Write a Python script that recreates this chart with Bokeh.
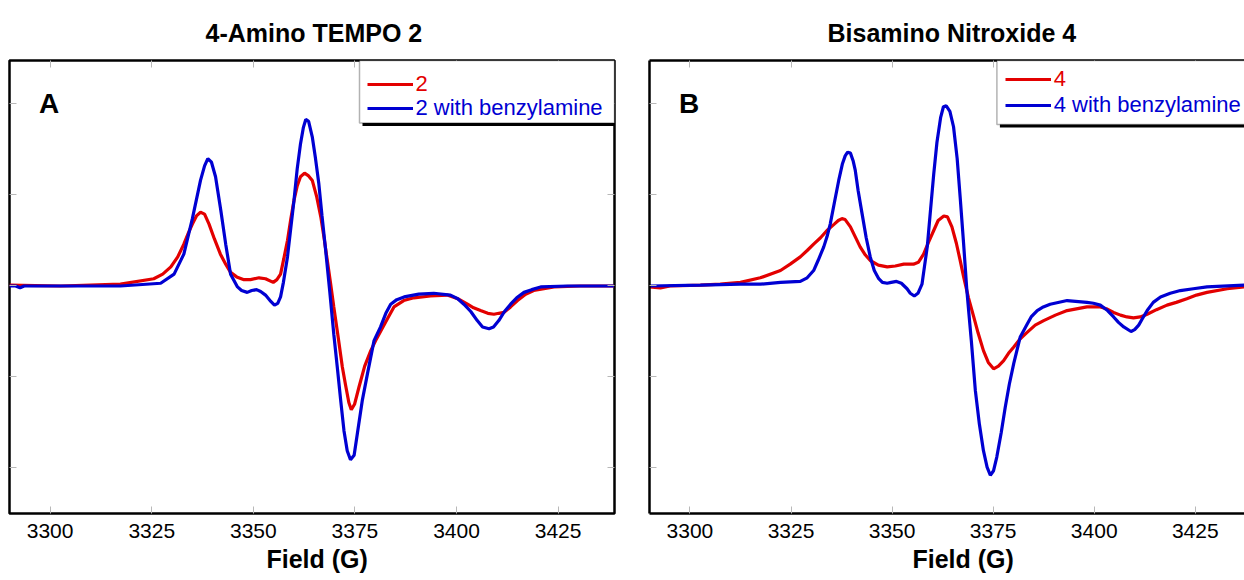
from bokeh.plotting import figure
from bokeh.layouts import row
from bokeh.models import Range1d, FixedTicker, LinearAxis, Legend, LegendItem, BoxAnnotation, Label, Title
from bokeh.embed import file_html
from bokeh.resources import INLINE

# ---------------- data (Field in G, derivative intensity in arbitrary units) ----------------
X_TICKS = [3300, 3325, 3350, 3375, 3400, 3425]
Y_TICKS = [-2, -1, 0, 1, 2]

TITLE_A = "4-Amino TEMPO 2"
TITLE_B = "Bisamino Nitroxide 4"
LABEL_A_RED = "2"
LABEL_A_BLUE = "2 with benzylamine"
LABEL_B_RED = "4"
LABEL_B_BLUE = "4 with benzylamine"
X_LABEL = "Field (G)"

a_red_field = [3290.0, 3302.6, 3317.3, 3325.5, 3327.7, 3329.7, 3331.4, 3332.9, 3334.0, 3335.0,
               3336.0, 3337.0, 3338.0, 3339.1, 3340.4, 3341.9, 3343.2, 3344.4, 3345.9, 3347.7,
               3349.3, 3351.4, 3353.0, 3354.9, 3355.8, 3356.7, 3357.5, 3358.4, 3359.2, 3360.0,
               3360.8, 3361.6, 3362.6, 3363.6, 3364.5, 3365.6, 3366.6, 3367.4, 3368.2, 3369.0,
               3369.8, 3370.9, 3371.9, 3372.7, 3373.5, 3374.1, 3374.9, 3376.0, 3377.4, 3378.9,
               3380.1, 3381.3, 3383.0, 3384.6, 3387.0, 3389.5, 3393.6, 3397.7, 3400.3, 3402.7,
               3404.2, 3405.9, 3407.7, 3409.2, 3410.4, 3411.7, 3413.3, 3415.0, 3417.0, 3419.0,
               3424.0, 3430.5, 3438.7]
a_red_int = [0.01, 0.00, 0.02, 0.08, 0.13, 0.21, 0.32, 0.46, 0.58, 0.68,
             0.77, 0.81, 0.79, 0.68, 0.52, 0.35, 0.24, 0.15, 0.10, 0.07,
             0.07, 0.09, 0.08, 0.04, 0.07, 0.13, 0.30, 0.50, 0.73, 0.94,
             1.10, 1.20, 1.24, 1.21, 1.16, 0.98, 0.76, 0.53, 0.28, 0.03,
             -0.23, -0.57, -0.89, -1.09, -1.28, -1.36, -1.30, -1.11, -0.88, -0.71,
             -0.60, -0.50, -0.36, -0.23, -0.16, -0.13, -0.11, -0.10, -0.14, -0.20,
             -0.24, -0.27, -0.30, -0.31, -0.30, -0.29, -0.23, -0.16, -0.09, -0.05,
             -0.01, 0.00, 0.00]

a_blue_field = [3290.0, 3291.5, 3292.6, 3293.6, 3302.6, 3317.3, 3327.2, 3330.5, 3332.9, 3335.0,
                3337.0, 3338.0, 3338.8, 3339.7, 3340.7, 3342.0, 3343.2, 3344.4, 3346.1, 3347.1,
                3348.5, 3349.6, 3350.8, 3351.8, 3353.0, 3354.3, 3355.2, 3356.0, 3356.7, 3357.4,
                3358.4, 3359.2, 3360.0, 3360.8, 3361.6, 3362.3, 3362.9, 3363.6, 3364.5, 3365.3,
                3366.1, 3366.9, 3367.8, 3368.8, 3369.8, 3370.7, 3371.5, 3372.3, 3373.1, 3373.9,
                3374.8, 3375.6, 3376.8, 3378.1, 3379.7, 3381.3, 3382.6, 3383.8, 3385.3, 3387.1,
                3390.7, 3394.4, 3398.5, 3400.3, 3401.8, 3403.5, 3405.1, 3406.4, 3408.0, 3409.1,
                3410.4, 3411.8, 3413.3, 3414.8, 3416.6, 3418.5, 3420.7, 3427.3, 3438.7]
a_blue_int = [0.00, 0.00, -0.02, 0.00, 0.00, 0.00, 0.03, 0.13, 0.35, 0.74,
              1.16, 1.32, 1.40, 1.36, 1.20, 0.83, 0.46, 0.13, -0.01, -0.05,
              -0.07, -0.05, -0.04, -0.06, -0.10, -0.17, -0.21, -0.19, -0.12, 0.04,
              0.32, 0.63, 0.94, 1.29, 1.56, 1.74, 1.83, 1.81, 1.64, 1.40,
              1.13, 0.77, 0.39, -0.06, -0.53, -0.91, -1.26, -1.59, -1.81, -1.91,
              -1.86, -1.62, -1.26, -0.96, -0.60, -0.45, -0.30, -0.20, -0.15, -0.12,
              -0.09, -0.08, -0.10, -0.14, -0.20, -0.28, -0.38, -0.45, -0.47, -0.45,
              -0.38, -0.28, -0.20, -0.13, -0.07, -0.04, -0.01, 0.00, 0.00]

b_red_field = [3290.0, 3292.7, 3295.1, 3302.6, 3307.5, 3312.5, 3317.4, 3322.4, 3324.8, 3327.3,
               3329.0, 3330.6, 3332.3, 3333.9, 3335.7, 3336.7, 3337.6, 3338.4, 3339.7, 3340.9,
               3342.1, 3343.4, 3344.6, 3346.6, 3348.8, 3350.8, 3352.9, 3355.3, 3356.5, 3357.8,
               3359.0, 3360.3, 3361.4, 3362.8, 3363.7, 3364.8, 3365.9, 3366.8, 3367.7, 3368.9,
               3370.2, 3371.3, 3372.6, 3373.8, 3375.1, 3376.3, 3377.6, 3378.8, 3380.1, 3381.7,
               3383.4, 3385.4, 3387.5, 3390.4, 3393.3, 3398.2, 3401.5, 3403.0, 3404.8, 3406.5,
               3408.1, 3409.7, 3411.4, 3413.1, 3415.4, 3418.0, 3420.3, 3422.9, 3425.3, 3427.9,
               3432.9, 3437.1]
b_red_int = [-0.01, -0.02, 0.00, 0.01, 0.02, 0.04, 0.09, 0.17, 0.24, 0.32,
             0.39, 0.46, 0.53, 0.61, 0.68, 0.72, 0.74, 0.73, 0.65, 0.54,
             0.43, 0.34, 0.28, 0.23, 0.21, 0.22, 0.24, 0.24, 0.26, 0.35,
             0.48, 0.61, 0.72, 0.77, 0.76, 0.65, 0.47, 0.29, 0.10, -0.13,
             -0.34, -0.52, -0.71, -0.84, -0.91, -0.88, -0.82, -0.74, -0.67, -0.58,
             -0.51, -0.43, -0.38, -0.32, -0.27, -0.23, -0.23, -0.25, -0.29, -0.32,
             -0.34, -0.35, -0.34, -0.31, -0.26, -0.21, -0.18, -0.14, -0.10, -0.07,
             -0.03, -0.01]

b_blue_field = [3290.0, 3302.6, 3312.5, 3317.4, 3322.4, 3327.3, 3329.0, 3330.6, 3331.7, 3333.1,
                3333.9, 3334.7, 3335.7, 3336.8, 3337.7, 3338.4, 3339.0, 3339.7, 3340.4, 3340.9,
                3341.6, 3342.6, 3343.6, 3344.6, 3345.6, 3346.7, 3347.6, 3348.8, 3349.8, 3351.1,
                3352.3, 3353.7, 3354.5, 3355.5, 3356.4, 3357.4, 3358.0, 3358.7, 3359.5, 3360.3,
                3361.1, 3362.0, 3362.7, 3363.4, 3364.3, 3365.2, 3366.1, 3366.9, 3367.7, 3368.5,
                3369.6, 3370.6, 3371.6, 3372.6, 3373.5, 3374.3, 3375.1, 3375.9, 3377.0, 3378.0,
                3379.0, 3380.1, 3381.7, 3383.4, 3384.4, 3385.9, 3387.4, 3389.1, 3393.3, 3398.2,
                3399.8, 3401.5, 3403.3, 3404.8, 3406.0, 3407.3, 3409.1, 3410.0, 3411.0, 3411.9,
                3413.1, 3414.6, 3416.4, 3418.8, 3421.3, 3424.5, 3427.9, 3437.1]
b_blue_int = [0.00, 0.01, 0.02, 0.02, 0.04, 0.05, 0.09, 0.17, 0.28, 0.43,
              0.54, 0.68, 0.91, 1.16, 1.34, 1.43, 1.47, 1.46, 1.37, 1.27,
              1.05, 0.79, 0.53, 0.32, 0.17, 0.08, 0.04, 0.03, 0.04, 0.05,
              0.03, -0.03, -0.08, -0.11, -0.08, 0.02, 0.21, 0.43, 0.83, 1.23,
              1.58, 1.85, 1.97, 1.98, 1.92, 1.75, 1.40, 0.94, 0.46, -0.05,
              -0.60, -1.15, -1.52, -1.81, -1.99, -2.08, -2.03, -1.88, -1.61, -1.33,
              -1.08, -0.85, -0.56, -0.42, -0.34, -0.27, -0.23, -0.20, -0.16, -0.18,
              -0.19, -0.21, -0.27, -0.34, -0.40, -0.45, -0.50, -0.48, -0.43, -0.36,
              -0.27, -0.18, -0.12, -0.08, -0.05, -0.03, -0.01, 0.01]

# ---------------- styling ----------------
FONT = "Liberation Sans"
RED = "#e30000"
BLUE = "#0000d2"
TICK_GRAY = "#b8b8b8"


def add_axis(p, side, ticks, show_labels, draw_line):
    ax = LinearAxis(ticker=FixedTicker(ticks=ticks), major_tick_in=7, major_tick_out=0,
                    minor_tick_line_color=None, major_tick_line_color=TICK_GRAY,
                    major_tick_line_width=1)
    if draw_line:
        ax.axis_line_color = "black"
        ax.axis_line_width = 2.5
    else:
        ax.axis_line_color = None
    if show_labels:
        ax.major_label_text_font = FONT
        ax.major_label_text_font_size = "21px"
        ax.major_label_text_color = "black"
        ax.major_label_standoff = 10
    else:
        ax.major_label_text_font_size = "1px"
        ax.major_label_text_color = None
        ax.major_label_standoff = 0
    p.add_layout(ax, side)


def add_legend_item(p, renderer, text, color, loc):
    leg = Legend(items=[LegendItem(label=text, renderers=[renderer])], location=loc,
                 orientation="vertical", padding=0, margin=0, spacing=0,
                 glyph_width=46, glyph_height=28, label_height=28, label_width=10,
                 label_standoff=3, border_line_color=None, background_fill_alpha=0,
                 label_text_font=FONT, label_text_font_size="22px", label_text_color=color)
    p.add_layout(leg, "center")


def add_box(p, left, right, top, bottom, fill, line):
    p.add_layout(BoxAnnotation(left=left, right=right, top=top, bottom=bottom,
                               left_units="screen", right_units="screen", top_units="screen",
                               bottom_units="screen", fill_color=fill, fill_alpha=1,
                               line_color=line, line_width=1.5))


def make_panel(width, x_end, min_left, min_right, is_b, title_text, title_off, xlabel_off):
    p = figure(width=width, height=580, min_border_left=min_left, min_border_right=min_right,
               min_border_top=60, min_border_bottom=67,
               x_range=Range1d(3290, x_end), y_range=Range1d(-2.5, 2.478),
               x_axis_location=None, y_axis_location=None, title=None,
               toolbar_location=None, output_backend="svg",
               background_fill_color="white", border_fill_color="white")
    p.grid.visible = False
    if is_b:
        p.outline_line_color = None
        add_axis(p, "below", X_TICKS, True, True)
        add_axis(p, "above", X_TICKS, False, True)
        add_axis(p, "left", Y_TICKS, False, True)
    else:
        p.outline_line_color = "black"
        p.outline_line_width = 2.5
        add_axis(p, "below", X_TICKS, True, False)
        add_axis(p, "above", X_TICKS, False, False)
        add_axis(p, "left", Y_TICKS, False, False)
        add_axis(p, "right", Y_TICKS, False, False)
    p.add_layout(Title(text=title_text, align="left", offset=title_off, standoff=27,
                       text_font=FONT, text_font_size="25px", text_font_style="bold",
                       text_color="black"), "above")
    p.add_layout(Title(text=X_LABEL, align="left", offset=xlabel_off, standoff=4,
                       text_font=FONT, text_font_size="25px", text_font_style="bold",
                       text_color="black"), "below")
    return p


def add_letter(p, text):
    p.add_layout(Label(x=29.5, y=409.7, x_units="screen", y_units="screen", text=text,
                       text_font=FONT, text_font_size="28px", text_font_style="bold",
                       text_color="black", text_align="left", text_baseline="alphabetic"))


# ---------------- panel A ----------------
pA = make_panel(632, 3438.87, 9, 18, False, TITLE_A, 196, 257)
rA = pA.line(a_red_field, a_red_int, line_color=RED, line_width=3.2)
bA = pA.line(a_blue_field, a_blue_int, line_color=BLUE, line_width=3.2)
add_box(pA, 353, 608, 450, 387.5, "black", None)
add_box(pA, 350, 605, 453, 390.5, "white", "black")
add_legend_item(pA, rA, LABEL_A_RED, RED, (357.5, 415))
add_legend_item(pA, bA, LABEL_A_BLUE, BLUE, (357.5, 391))
add_letter(pA, "A")

# ---------------- panel B ----------------
pB = make_panel(612, 3437.17, 17, 0, True, TITLE_B, 178, 263)
rB = pB.line(b_red_field, b_red_int, line_color=RED, line_width=3.2)
bB = pB.line(b_blue_field, b_blue_int, line_color=BLUE, line_width=3.2)
add_box(pB, 350.4, 640, 450, 386, "black", None)
add_box(pB, 347.4, 640, 453, 389, "white", "black")
add_legend_item(pB, rB, LABEL_B_RED, RED, (355.7, 420))
add_legend_item(pB, bB, LABEL_B_BLUE, BLUE, (355.7, 394.5))
add_letter(pB, "B")

layout = row(pA, pB)
open("out.html", "w").write(file_html(layout, INLINE))
